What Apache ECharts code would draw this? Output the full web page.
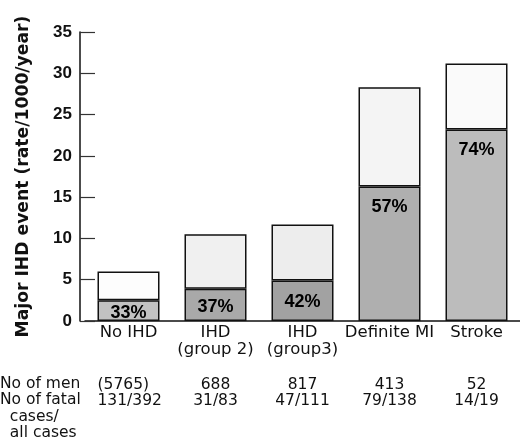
<!DOCTYPE html>
<html>
<head>
<meta charset="utf-8">
<script src="https://cdn.jsdelivr.net/npm/echarts@6/dist/echarts.min.js"></script>
<style>
html,body{margin:0;padding:0;background:#fff;}
#chart{width:520px;height:442px;}
</style>
</head>
<body>
<div id="chart"></div>
<script>
// ---- data ----
var categories = ['No IHD', 'IHD\n(group 2)', 'IHD\n(group3)', 'Definite MI', 'Stroke'];
var fatalRates = [2.5, 3.9, 4.9, 16.3, 23.2];       // lower (shaded) segment
var totalRates = [6.0, 10.5, 11.7, 28.3, 31.2];     // full bar height
var fatalPercent = ['33%', '37%', '42%', '57%', '74%'];
var menCounts = ['(5765)', '688', '817', '413', '52'];
var fatalOfAll = ['131/392', '31/83', '47/111', '79/138', '14/19'];
var rowHeaders = ['No of men', 'No of fatal', '  cases/', '  all cases'];
var yTicks = { min: 0, max: 35, interval: 5 };
var yTitle = 'Major IHD event (rate/1000/year)';

// ---- styles ----
var FONT = 'Liberation Sans, Arial, sans-serif';
var WIDE = 'DejaVu Sans, sans-serif';
var darkColors = ['#c2c2c2', '#a9a9a9', '#a2a2a2', '#afafaf', '#bcbcbc'];
var lightColors = ['#fdfdfd', '#f0f0f0', '#ededed', '#f4f4f4', '#fafafa'];
var labelDistance = [4, 9, 12, 12, 12];

var nonFatal = totalRates.map(function (t, i) { return +(t - fatalRates[i]).toFixed(2); });

var chart = echarts.init(document.getElementById('chart'), null, { renderer: 'canvas' });

var tableLabels = menCounts.map(function (m, i) { return m + '\n' + fatalOfAll[i]; });

chart.setOption({
  animation: false,
  backgroundColor: '#ffffff',
  grid: { left: 85, right: -12, top: 32, bottom: 121, containLabel: false },
  xAxis: [{
    type: 'category',
    data: categories,
    axisLine: { lineStyle: { color: '#111', width: 1.5 } },
    axisTick: { show: false },
    axisLabel: {
      color: '#111', fontFamily: WIDE, fontSize: 16.5, lineHeight: 17,
      margin: 3, interval: 0
    }
  }, {
    type: 'category',
    position: 'bottom',
    offset: 56,
    data: tableLabels,
    axisLine: { show: false },
    axisTick: { show: false },
    axisLabel: {
      color: '#111', fontFamily: WIDE, fontSize: 15.5, lineHeight: 16.3,
      interval: 0, margin: 0,
      formatter: function (v, idx) {
        if (idx === 0) {
          var p = v.split('\n');
          return '{l|' + p[0] + '}\n{l|' + p[1] + '}';
        }
        return v;
      },
      rich: { l: { width: 62, align: 'left', fontFamily: WIDE, fontSize: 15.5, lineHeight: 16.3, color: '#111' } }
    }
  }],
  yAxis: {
    type: 'value',
    min: yTicks.min, max: yTicks.max, interval: yTicks.interval,
    offset: 5,
    name: yTitle,
    nameLocation: 'middle',
    nameGap: 48,
    nameRotate: 90,
    nameTextStyle: { color: '#111', fontFamily: WIDE, fontSize: 17.2, fontWeight: 'bold' },
    axisLine: { show: true, lineStyle: { color: '#111', width: 1.5 } },
    axisTick: { show: true, inside: true, length: 15, lineStyle: { color: '#333', width: 1.2 } },
    axisLabel: { color: '#111', fontFamily: FONT, fontSize: 17, fontWeight: 'bold', margin: 8 },
    splitLine: { show: false }
  },
  graphic: rowHeaders.map(function (t, i) {
    return {
      type: 'text', left: 0, top: 376 + i * 16.3,
      style: { text: t, font: '15.5px ' + WIDE, fill: '#111' }
    };
  }),
  series: [{
    type: 'bar',
    stack: 'total',
    barWidth: 62,
    data: fatalRates.map(function (v, i) {
      return { value: v, itemStyle: { color: darkColors[i] }, label: { distance: labelDistance[i] } };
    }),
    itemStyle: { borderColor: '#111', borderWidth: 1.5 },
    label: {
      show: true, position: 'insideTop',
      formatter: function (p) { return fatalPercent[p.dataIndex]; },
      color: '#000', fontFamily: FONT, fontSize: 18, fontWeight: 'bold'
    }
  }, {
    type: 'bar',
    stack: 'total',
    barWidth: 62,
    data: nonFatal.map(function (v, i) {
      return { value: v, itemStyle: { color: lightColors[i] } };
    }),
    itemStyle: { borderColor: '#111', borderWidth: 1.5 }
  }]
});
</script>
</body>
</html>
